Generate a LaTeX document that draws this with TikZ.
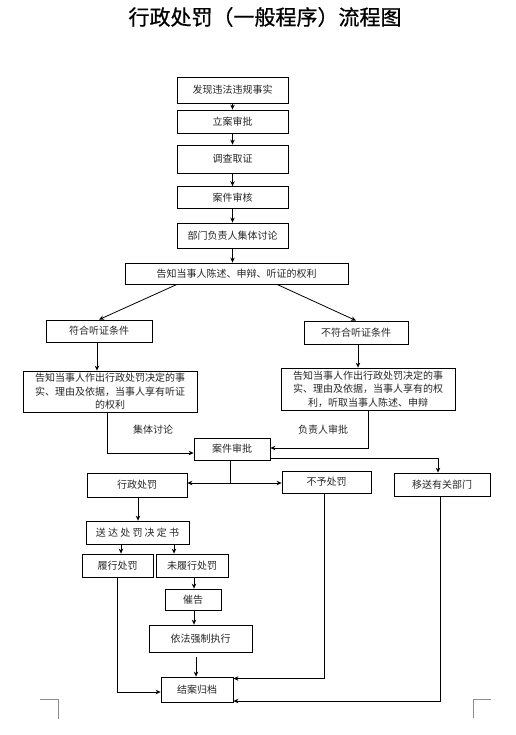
\documentclass[tikz,border=0pt]{standalone}
\usepackage{fontspec}
\setmainfont{Noto Sans CJK SC}
\newfontfamily\titlefont[FakeBold=0.7]{Noto Sans CJK SC}
\usetikzlibrary{arrows.meta}
\tikzset{
  box/.style={draw=black, line width=0.8pt, inner sep=0pt, align=center,
    text=black!85, font=\fontsize{10}{13.5}\selectfont},
  sz/.style 2 args={minimum width=#1pt, minimum height=#2pt},
  arr/.style={draw=black, line width=0.8pt, -{Stealth[length=5pt,width=4.5pt]}},
  ln/.style={draw=black, line width=0.8pt},
  lbl/.style={text=black!85, font=\fontsize{10}{12}\selectfont, inner sep=0pt},
  cornermark/.style={draw=black!45, line width=0.7pt}
}
\begin{document}
\begin{tikzpicture}[x=1pt,y=-1pt]
\useasboundingbox (0,0) rectangle (515,735);
\node[font=\titlefont\fontsize{21}{24}\selectfont, text=black] (title) at (265,17) {行政处罚（一般程序）流程图};

\node[box, sz={111}{26}] (b1) at (232.5,90) {发现违法违规事实};
\node[box, sz={111}{23}] (b2) at (232.5,121.5) {立案审批};
\node[box, sz={111}{28}] (b3) at (232.5,159) {调查取证};
\node[box, sz={111}{22}] (b4) at (232.5,197.5) {案件审核};
\node[box, sz={111}{25}] (b5) at (232.5,235.5) {部门负责人集体讨论};
\node[box, sz={223}{21}] (b6) at (236.5,273.5) {告知当事人陈述、申辩、听证的权利};
\node[box, sz={106}{22}] (b7) at (99,331) {符合听证条件};
\node[box, sz={104}{23}] (b8) at (356,332.5) {不符合听证条件};
\node[box, sz={174}{41}] (b9) at (110,391.5) {告知当事人作出行政处罚决定的事\\实、理由及依据，当事人享有听证\\的权利};
\node[box, sz={174}{42}] (b10) at (368,389) {告知当事人作出行政处罚决定的事\\实、理由及依据，当事人享有的权\\利，听取当事人陈述、申辩};
\node[box, sz={76}{22}] (b11) at (232,449) {案件审批};
\node[box, sz={100}{24}] (b12) at (137,485) {行政处罚};
\node[box, sz={89}{22}] (b13) at (326.5,482) {不予处罚};
\node[box, sz={96}{23}] (b14) at (442,484.5) {移送有关部门};
\node[box, sz={103}{23}] (b15) at (137.5,532.5) {送\kern2.2pt 达\kern2.2pt 处\kern2.2pt 罚\kern2.2pt 决\kern2.2pt 定\kern2.2pt 书};
\node[box, sz={71}{23}] (b16) at (117.5,565.5) {履行处罚};
\node[box, sz={72}{23}] (b17) at (192,565.5) {未履行处罚};
\node[box, sz={56}{21}] (b18) at (193,599.5) {催告};
\node[box, sz={103}{27}] (b19) at (200.5,638.5) {依法强制执行};
\node[box, sz={72}{25}] (b20) at (197,689.5) {结案归档};

\node[lbl] (l1) at (153,430) {集体讨论};
\node[lbl] (l2) at (323,430) {负责人审批};

% main chain
\draw[arr] (b1.south) -- (b2.north);
\draw[arr] (b2.south) -- (b3.north);
\draw[arr] (b3.south) -- (b4.north);
\draw[arr] (b4.south) -- (b5.north);
\draw[arr] (b5.south) -- (b5.south |- b6.north);
\draw[arr] ([xshift=-59.5pt]b6.south) -- (b7.north);
\draw[arr] ([xshift=40.5pt]b6.south) -- (b8.north);
\draw[arr] ([xshift=-2pt]b7.south) -- ([xshift=-2pt]b7.south |- b9.north);
\draw[arr] ([xshift=2pt]b8.south) -- ([xshift=2pt]b8.south |- b10.north);
\draw[arr] ([xshift=-3pt]b9.south) |- ([yshift=-4pt]b11.west);
\draw[arr] (b10.south) |- ([yshift=1pt]b11.east);

% from case approval
\coordinate (j) at (230,483);
\draw[ln] ([xshift=-2pt]b11.south) -- (j);
\draw[arr] (j) -- (b12.east |- j);
\draw[arr] (j) -- (b13.west |- j);
\draw[arr] ([yshift=-9pt]b11.east) -| ([xshift=-4pt]b14.north);

% penalty branch
\draw[arr] ([xshift=1pt]b12.south) -- ([xshift=0.5pt]b15.north);
\draw[arr] ([xshift=-16.5pt]b15.south) -- ([xshift=3.5pt]b16.north);
\draw[arr] ([xshift=36.5pt]b15.south) -- ([xshift=-18pt]b17.north);
\draw[arr] ([xshift=2pt]b17.south) -- ([xshift=2pt]b17.south |- b18.north);
\draw[arr] ([xshift=1pt]b18.south) -- ([xshift=1pt]b18.south |- b19.north);
\draw[arr] ([xshift=-4.5pt,yshift=-5pt]b19.south) -- ([xshift=-1pt]b20.north);

% to archive
\draw[arr] (b16.south) |- ([yshift=-2.5pt]b20.west);
\draw[arr] ([xshift=-2.5pt]b13.south) |- ([yshift=11pt]b20.east);
\draw[arr] ([xshift=-2pt]b14.south) |- ([yshift=-11.5pt]b20.east);

% page corner marks
\draw[cornermark] (40,699) -- (58,699) -- (58,719);
\draw[cornermark] (491,699) -- (473,699) -- (473,718);
\end{tikzpicture}
\end{document}
